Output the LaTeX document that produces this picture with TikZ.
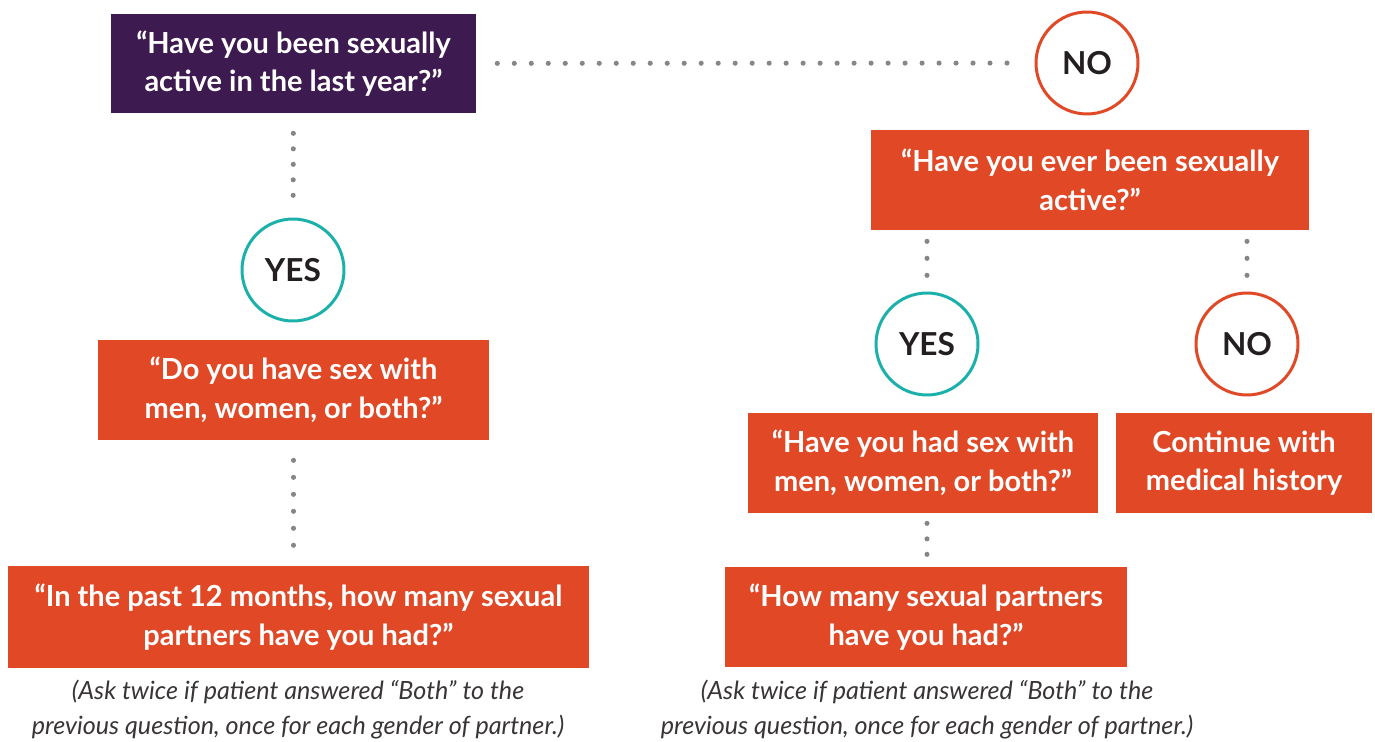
\documentclass[tikz,border=0pt]{standalone}
\usepackage{fontspec}
\setmainfont{Lato}
\usetikzlibrary{positioning}
\definecolor{plum}{HTML}{3D1A4F}
\definecolor{rust}{HTML}{E04826}
\definecolor{lagoon}{HTML}{1BB0A9}
\definecolor{dotgray}{HTML}{85858A}
\definecolor{ink}{HTML}{231F20}
\tikzset{
    question/.style={
        rectangle,
        fill=rust,
        text=white,
        font=\bfseries\fontsize{16.5}{22}\selectfont,
        align=center,
        inner sep=0pt,
        minimum height=2cm,
    },
    answer/.style={
        circle,
        line width=1.7pt,
        fill=white,
        text=ink,
        font=\bfseries\fontsize{18}{20}\selectfont,
        minimum size=2.04cm,
        inner sep=0pt,
    },
    note/.style={
        text=ink!90,
        font=\itshape\fontsize{14.3}{19.9}\selectfont,
        align=center,
    },
    dots/.style={
        dotgray,
        line width=2.9pt,
        line cap=round,
        dash pattern=on 0pt off 9.67pt,
    },
    tightdots/.style={
        dots,
        dash pattern=on 0pt off 8.82pt,
    },
}

\begin{document}
\begin{tikzpicture}[x=0.02cm, y=-0.02cm]
      \useasboundingbox (0,0) rectangle (1375,742);

      % left column
      \node[question, fill=plum, minimum width=7.3cm, minimum height=1.98cm] (q0) at (293.5,63.5) {“Have you been sexually\\active in the last year?”};

      \node[answer, draw=lagoon] (yes0) at (293,270) {YES};

      \node[question, minimum width=7.82cm] (q1) at (293.5,390) {“Do you have sex with\\men, women, or both?”};

      \node[question, minimum width=11.62cm, minimum height=2.04cm] (q2) at (298.5,617) {“In the past 12 months, how many sexual\\partners have you had?”};

      \node[note] (n0) at (298,710) {(Ask twice if patient answered “Both” to the\\previous question, once for each gender of partner.)};

      % right column
      \node[answer, draw=rust] (no0) at (1087,63) {NO};

      \node[question, minimum width=8.76cm] (q3) at (1090,180) {“Have you ever been sexually\\active?”};

      \node[answer, draw=lagoon] (yes1) at (927,344) {YES};

      \node[answer, draw=rust] (no1) at (1247,344) {NO};

      \node[question, minimum width=7cm] (q4) at (923,463) {“Have you had sex with\\men, women, or both?”};

      \node[question, minimum width=5.12cm] (q5) at (1244,463) {Continue with\\medical history};

      \node[question, minimum width=8.04cm] (q6) at (926,617) {“How many sexual partners\\have you had?”};

      \node[note] (n1) at (927,710) {(Ask twice if patient answered “Both” to the\\previous question, once for each gender of partner.)};

      % dotted links
      \draw[dots, shorten <=0.42cm, shorten >=0.5cm] (q0) -- (no0);
      \draw[tightdots, shorten <=0.4cm, shorten >=0.38cm] (q0) -- (yes0);
      \draw[dots, shorten <=0.4cm, shorten >=0.4cm] (q1.south) -- (q2.north -| q1.south);
      \draw[dots, shorten <=0.22cm, shorten >=0.3cm] (q3.south -| yes1) -- (yes1);
      \draw[dots, shorten <=0.22cm, shorten >=0.3cm] (q3.south -| no1) -- (no1);
      \draw[tightdots, shorten <=0.2cm, shorten >=0.2cm] (q4.south -| yes1) -- (q6.north -| yes1);

    \end{tikzpicture}
\end{document}
